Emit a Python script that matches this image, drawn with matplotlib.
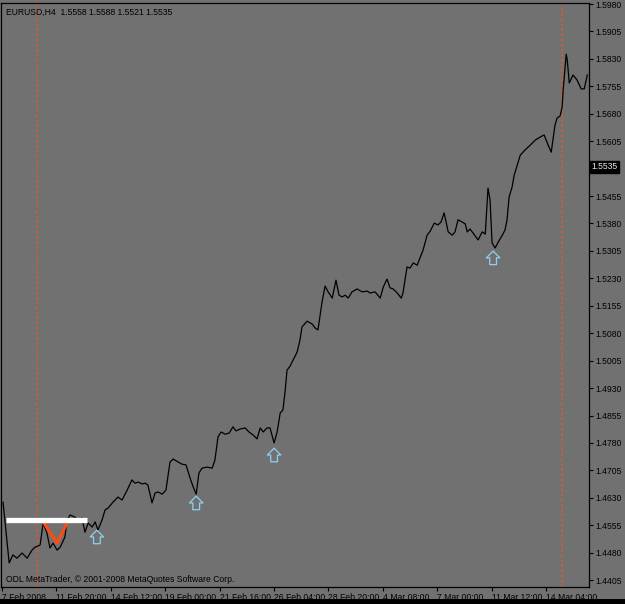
import matplotlib
matplotlib.use("Agg")
import matplotlib.pyplot as plt
from matplotlib.path import Path
from matplotlib.transforms import blended_transform_factory

# EURUSD H4 closes (x = bar number from the left edge)
bars = [0.3, 2.1, 3.2, 4.4, 5.9, 7.4, 8.8, 9.7, 11.2, 12.1, 13.2, 14.1, 15.0, 16.2, 17.1,
        18.5, 19.1, 20.0, 21.5, 22.4, 23.5, 24.4, 25.3, 26.5, 27.4, 28.2, 29.4, 30.3, 31.2,
        32.6, 34.1, 35.3, 36.8, 38.2, 39.1, 40.0, 41.2, 42.1, 42.9, 44.1, 45.0, 45.9, 47.1,
        48.2, 49.4, 50.3, 51.8, 52.9, 54.1, 55.3, 56.2, 57.1, 57.9, 58.8, 60.3, 61.8, 62.6,
        63.5, 64.4, 65.6, 66.8, 67.9, 68.8, 70.0, 71.5, 72.6, 73.8, 75.0, 75.9, 76.8, 77.9,
        78.8, 80.0, 80.9, 81.8, 82.6, 83.2, 83.8, 84.7, 85.6, 86.8, 87.6, 88.2, 89.7, 91.2,
        92.1, 92.9, 94.1, 95.0, 95.9, 97.1, 98.2, 99.1, 100.0, 100.9, 101.8, 102.9, 104.4,
        105.9, 107.4, 108.2, 109.7, 111.2, 112.1, 113.2, 114.1, 115.0, 116.2, 117.4, 117.9,
        119.1, 120.0, 120.9, 122.1, 122.9, 123.8, 125.0, 125.9, 127.1, 128.2, 129.1, 130.0,
        131.2, 132.4, 133.2, 134.1, 135.3, 136.2, 136.8, 137.6, 138.5, 140.0, 141.2, 142.1,
        142.9, 143.5, 144.1, 145.0, 145.9, 147.1, 147.9, 148.5, 149.1, 150.0, 150.6, 151.5,
        152.4, 153.8, 155.3, 156.8, 158.2, 159.4, 160.6, 161.5, 162.6, 163.2, 164.1, 164.7,
        165.0, 165.9, 166.2, 166.8, 167.9, 169.1, 170.3, 171.2, 172.1]
close = [1.4618, 1.4452, 1.4474, 1.4465, 1.4479, 1.4465, 1.4487, 1.4495, 1.4501, 1.4561,
         1.4534, 1.4493, 1.4506, 1.4487, 1.4495, 1.4523, 1.4569, 1.4583, 1.4577, 1.4564,
         1.4575, 1.4536, 1.4561, 1.4550, 1.4564, 1.4542, 1.4569, 1.4597, 1.4602, 1.4618,
         1.4632, 1.4624, 1.4651, 1.4679, 1.4670, 1.4673, 1.4668, 1.4670, 1.4665, 1.4616,
         1.4643, 1.4646, 1.4640, 1.4651, 1.4728, 1.4736, 1.4728, 1.4722, 1.4720, 1.4684,
         1.4660, 1.4640, 1.4698, 1.4711, 1.4714, 1.4711, 1.4733, 1.4796, 1.4810, 1.4804,
         1.4807, 1.4824, 1.4813, 1.4818, 1.4821, 1.4810, 1.4802, 1.4791, 1.4821, 1.4810,
         1.4821, 1.4821, 1.4780, 1.4810, 1.4862, 1.4870, 1.4917, 1.4979, 1.4990, 1.5007,
         1.5029, 1.5061, 1.5097, 1.5113, 1.5105, 1.5094, 1.5089, 1.5165, 1.5209, 1.5193,
         1.5176, 1.5225, 1.5184, 1.5179, 1.5184, 1.5176, 1.5193, 1.5201, 1.5193, 1.5195,
         1.5190, 1.5193, 1.5176, 1.5206, 1.5228, 1.5204, 1.5201, 1.5190, 1.5176, 1.5190,
         1.5261, 1.5258, 1.5272, 1.5266, 1.5286, 1.5307, 1.5348, 1.5359, 1.5381, 1.5376,
         1.5384, 1.5409, 1.5357, 1.5348, 1.5357, 1.5390, 1.5384, 1.5379, 1.5357, 1.5365,
         1.5354, 1.5335, 1.5357, 1.5351, 1.5477, 1.5444, 1.5327, 1.5313, 1.5329, 1.5348,
         1.5362, 1.5390, 1.5452, 1.5480, 1.5512, 1.5540, 1.5567, 1.5581, 1.5594, 1.5608,
         1.5616, 1.5622, 1.5594, 1.5575, 1.5649, 1.5668, 1.5674, 1.5698, 1.5745, 1.5843,
         1.5827, 1.5764, 1.5786, 1.5772, 1.5748, 1.5748, 1.5786]

# signal arrows under the lows
arrow_bars = [27.9, 57.1, 80.0, 144.4]
arrow_prices = [1.4523, 1.4616, 1.4747, 1.5286]

# drawn objects
level_bars = [1.2, 24.9]
level_price = 1.4568
v_bars = [12.1, 16.2, 19.4]
v_prices = [1.4564, 1.4506, 1.4567]
vline_bars = [10.3, 164.7]
marked_price = 1.5535

price_ticks = [1.4405 + 0.0075 * i for i in range(22)]
date_ticks = [0, 16, 32, 48, 64, 80, 96, 112, 128, 144, 160]
date_labels = ["7 Feb 2008", "11 Feb 20:00", "14 Feb 12:00", "19 Feb 00:00", "21 Feb 16:00",
               "26 Feb 04:00", "28 Feb 20:00", "4 Mar 08:00", "7 Mar 00:00", "11 Mar 12:00",
               "14 Mar 04:00"]

bg = "#717171"
fs = 6.2
plt.rcParams["font.family"] = ["Liberation Sans", "DejaVu Sans"]

fig = plt.figure(figsize=(6.25, 6.04), dpi=100, facecolor=bg)
ax = fig.add_axes([0.0016, 0.0281, 0.9408, 0.9669], facecolor=bg)

ax.plot(bars, close, color="black", lw=0.9, zorder=3)

for b in vline_bars:
    ax.axvline(b, color="#dc5a26", lw=1.4, ls=(0, (1.0, 1.6)), zorder=2)

ax.plot(level_bars, [level_price, level_price], color="white", lw=3.8,
        solid_capstyle="butt", zorder=5)
ax.plot(v_bars, v_prices, color="#ff4b12", lw=2.2, zorder=4)

# hollow up arrow marker
arrow = Path([(-0.25, -0.5), (0.25, -0.5), (0.25, 0.0), (0.5, 0.0), (0.0, 0.5),
              (-0.5, 0.0), (-0.25, 0.0), (-0.25, -0.5)],
             [Path.MOVETO] + [Path.LINETO] * 6 + [Path.CLOSEPOLY])
ax.scatter(arrow_bars, arrow_prices, marker=arrow, s=95, facecolors="none",
           edgecolors="#8fd0f0", linewidths=0.9, zorder=6)

ax.set_xlim(-0.3, 172.6)
ax.set_ylim(1.43861, 1.59827)

ax.yaxis.tick_right()
ax.set_yticks(price_ticks)
# the 1.5530 label sits under the marked-price box
ax.set_yticklabels(["" if abs(p - marked_price) < 0.0007 else "%.4f" % p
                    for p in price_ticks], fontsize=fs)
ax.set_xticks(date_ticks)
ax.set_xticklabels(date_labels, fontsize=fs, ha="left")
ax.tick_params(axis="both", colors="black", length=3, width=0.8, pad=1.5)
ax.tick_params(axis="x", pad=1)

for s in ax.spines.values():
    s.set_color("black")
    s.set_linewidth(0.9)

ax.text(0.008, 0.992, "EURUSD,H4  1.5558 1.5588 1.5521 1.5535", transform=ax.transAxes,
        fontsize=fs, va="top", ha="left", color="black")
ax.text(0.008, 0.006, "ODL MetaTrader, © 2001-2008 MetaQuotes Software Corp.",
        transform=ax.transAxes, fontsize=fs, va="bottom", ha="left", color="black")

tr = blended_transform_factory(ax.transAxes, ax.transData)
ax.text(1.004, marked_price, "1.5535", transform=tr, fontsize=fs, va="center", ha="left",
        color="#e8e8e8", bbox=dict(facecolor="black", edgecolor="black", pad=1.0))

# black strip along the bottom edge of the window
fig.patches.append(plt.Rectangle((0, 0), 1, 0.008, transform=fig.transFigure,
                                 facecolor="black", edgecolor="none"))

fig.savefig("out.png", dpi=100, facecolor=bg)
